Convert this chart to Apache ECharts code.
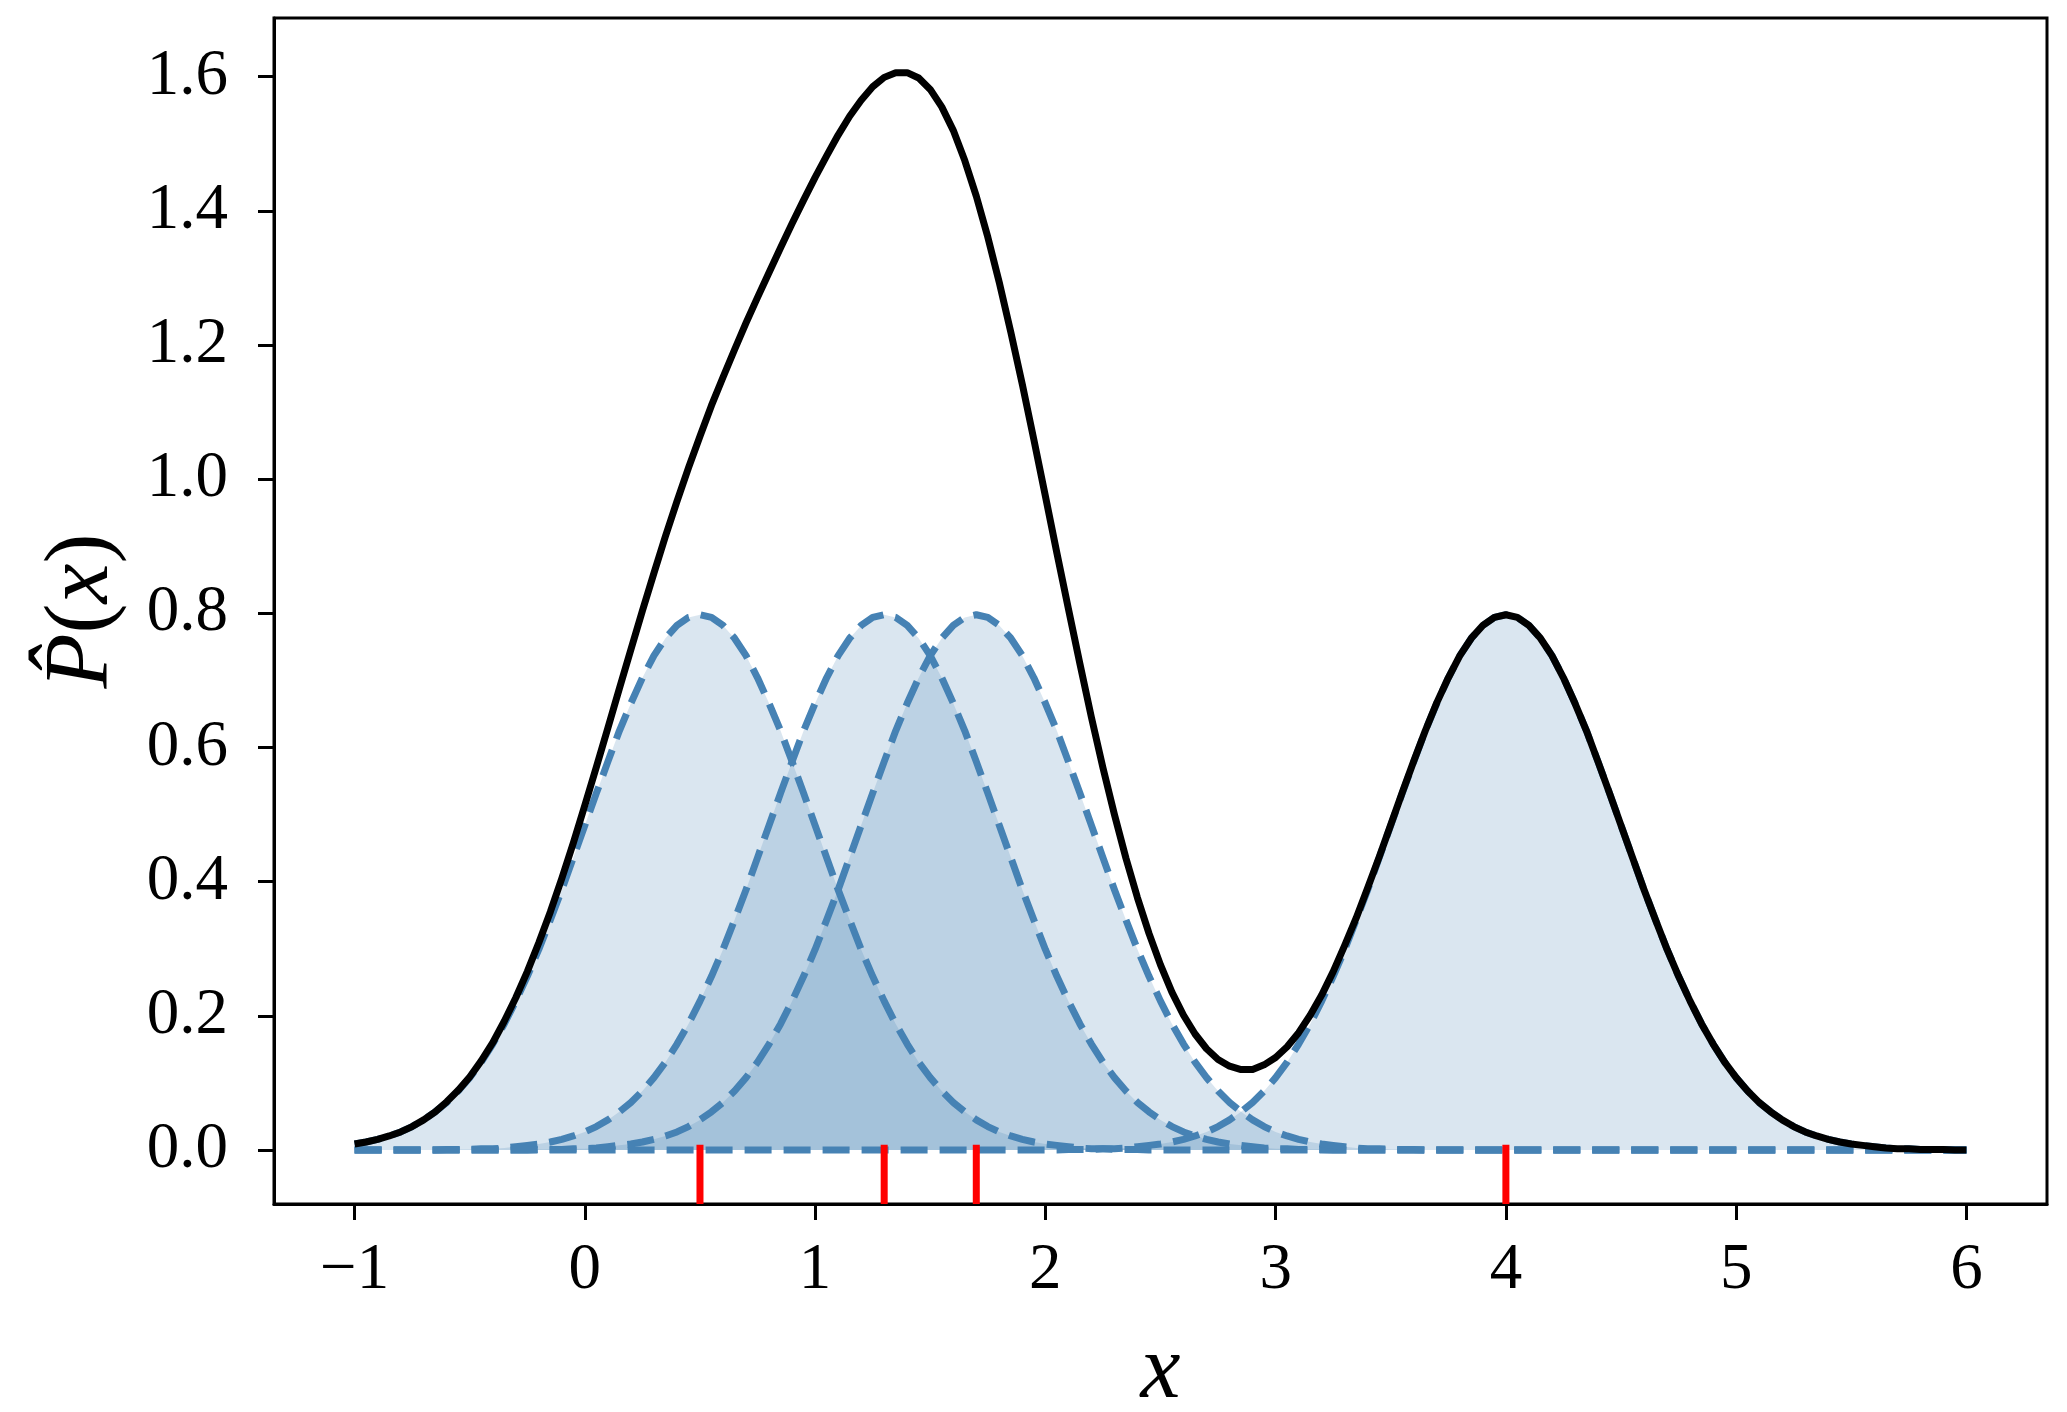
<!DOCTYPE html>
<html><head><meta charset="utf-8">
<script src="https://cdn.jsdelivr.net/npm/echarts@6/dist/echarts.min.js"></script>
<style>html,body{margin:0;padding:0;background:#fff}#c{width:2067px;height:1412px}</style>
</head><body><div id="c"></div>
<script>
const xs = [-1.00,-0.95,-0.90,-0.85,-0.80,-0.75,-0.70,-0.65,-0.60,-0.55,
  -0.50,-0.45,-0.40,-0.35,-0.30,-0.25,-0.20,-0.15,-0.10,-0.05,
  0.00,0.05,0.10,0.15,0.20,0.25,0.30,0.35,0.40,0.45,
  0.50,0.55,0.60,0.65,0.70,0.75,0.80,0.85,0.90,0.95,
  1.00,1.05,1.10,1.15,1.20,1.25,1.30,1.35,1.40,1.45,
  1.50,1.55,1.60,1.65,1.70,1.75,1.80,1.85,1.90,1.95,
  2.00,2.05,2.10,2.15,2.20,2.25,2.30,2.35,2.40,2.45,
  2.50,2.55,2.60,2.65,2.70,2.75,2.80,2.85,2.90,2.95,
  3.00,3.05,3.10,3.15,3.20,3.25,3.30,3.35,3.40,3.45,
  3.50,3.55,3.60,3.65,3.70,3.75,3.80,3.85,3.90,3.95,
  4.00,4.05,4.10,4.15,4.20,4.25,4.30,4.35,4.40,4.45,
  4.50,4.55,4.60,4.65,4.70,4.75,4.80,4.85,4.90,4.95,
  5.00,5.05,5.10,5.15,5.20,5.25,5.30,5.35,5.40,5.45,
  5.50,5.55,5.60,5.65,5.70,5.75,5.80,5.85,5.90,5.95,
  6.00];
const kernelA = [0.009,0.012,0.016,0.021,0.027,0.035,0.045,0.057,0.071,0.088,
  0.108,0.131,0.158,0.188,0.222,0.259,0.299,0.343,0.388,0.436,
  0.484,0.532,0.579,0.625,0.666,0.704,0.737,0.763,0.782,0.794,
  0.798,0.794,0.782,0.763,0.737,0.704,0.666,0.625,0.579,0.532,
  0.484,0.436,0.388,0.343,0.299,0.259,0.222,0.188,0.158,0.131,
  0.108,0.088,0.071,0.057,0.045,0.035,0.027,0.021,0.016,0.012,
  0.009,0.007,0.005,0.003,0.002,0.002,0.001,0.001,0.001,0,
  0,0,0,0,0,0,0,0,0,0,
  0,0,0,0,0,0,0,0,0,0,
  0,0,0,0,0,0,0,0,0,0,
  0,0,0,0,0,0,0,0,0,0,
  0,0,0,0,0,0,0,0,0,0,
  0,0,0,0,0,0,0,0,0,0,
  0,0,0,0,0,0,0,0,0,0,
  0];
const kernelB = [0,0,0,0,0,0,0,0,0.001,0.001,
  0.001,0.002,0.002,0.003,0.005,0.007,0.009,0.012,0.016,0.021,
  0.027,0.035,0.045,0.057,0.071,0.088,0.108,0.131,0.158,0.188,
  0.222,0.259,0.299,0.343,0.388,0.436,0.484,0.532,0.579,0.625,
  0.666,0.704,0.737,0.763,0.782,0.794,0.798,0.794,0.782,0.763,
  0.737,0.704,0.666,0.625,0.579,0.532,0.484,0.436,0.388,0.343,
  0.299,0.259,0.222,0.188,0.158,0.131,0.108,0.088,0.071,0.057,
  0.045,0.035,0.027,0.021,0.016,0.012,0.009,0.007,0.005,0.003,
  0.002,0.002,0.001,0.001,0.001,0,0,0,0,0,
  0,0,0,0,0,0,0,0,0,0,
  0,0,0,0,0,0,0,0,0,0,
  0,0,0,0,0,0,0,0,0,0,
  0,0,0,0,0,0,0,0,0,0,
  0,0,0,0,0,0,0,0,0,0,
  0];
const kernelC = [0,0,0,0,0,0,0,0,0,0,
  0,0,0,0,0,0,0.001,0.001,0.001,0.002,
  0.002,0.003,0.005,0.007,0.009,0.012,0.016,0.021,0.027,0.035,
  0.045,0.057,0.071,0.088,0.108,0.131,0.158,0.188,0.222,0.259,
  0.299,0.343,0.388,0.436,0.484,0.532,0.579,0.625,0.666,0.704,
  0.737,0.763,0.782,0.794,0.798,0.794,0.782,0.763,0.737,0.704,
  0.666,0.625,0.579,0.532,0.484,0.436,0.388,0.343,0.299,0.259,
  0.222,0.188,0.158,0.131,0.108,0.088,0.071,0.057,0.045,0.035,
  0.027,0.021,0.016,0.012,0.009,0.007,0.005,0.003,0.002,0.002,
  0.001,0.001,0.001,0,0,0,0,0,0,0,
  0,0,0,0,0,0,0,0,0,0,
  0,0,0,0,0,0,0,0,0,0,
  0,0,0,0,0,0,0,0,0,0,
  0,0,0,0,0,0,0,0,0,0,
  0];
const kernelD = [0,0,0,0,0,0,0,0,0,0,
  0,0,0,0,0,0,0,0,0,0,
  0,0,0,0,0,0,0,0,0,0,
  0,0,0,0,0,0,0,0,0,0,
  0,0,0,0,0,0,0,0,0,0,
  0,0,0,0,0,0,0,0,0,0,
  0,0,0.001,0.001,0.001,0.002,0.002,0.003,0.005,0.007,
  0.009,0.012,0.016,0.021,0.027,0.035,0.045,0.057,0.071,0.088,
  0.108,0.131,0.158,0.188,0.222,0.259,0.299,0.343,0.388,0.436,
  0.484,0.532,0.579,0.625,0.666,0.704,0.737,0.763,0.782,0.794,
  0.798,0.794,0.782,0.763,0.737,0.704,0.666,0.625,0.579,0.532,
  0.484,0.436,0.388,0.343,0.299,0.259,0.222,0.188,0.158,0.131,
  0.108,0.088,0.071,0.057,0.045,0.035,0.027,0.021,0.016,0.012,
  0.009,0.007,0.005,0.003,0.002,0.002,0.001,0.001,0.001,0,
  0];
const total = [0.009,0.012,0.016,0.021,0.027,0.035,0.045,0.057,0.072,0.089,
  0.109,0.133,0.160,0.192,0.227,0.266,0.309,0.355,0.405,0.458,
  0.514,0.571,0.629,0.688,0.746,0.804,0.860,0.915,0.967,1.017,
  1.064,1.110,1.152,1.193,1.233,1.271,1.308,1.345,1.381,1.416,
  1.450,1.482,1.513,1.541,1.565,1.585,1.599,1.606,1.606,1.598,
  1.581,1.555,1.520,1.475,1.422,1.361,1.293,1.219,1.141,1.059,
  0.975,0.890,0.807,0.725,0.645,0.570,0.500,0.435,0.376,0.323,
  0.276,0.235,0.201,0.173,0.151,0.135,0.125,0.120,0.120,0.127,
  0.138,0.154,0.175,0.201,0.231,0.266,0.305,0.346,0.391,0.437,
  0.485,0.533,0.580,0.625,0.667,0.704,0.737,0.763,0.782,0.794,
  0.798,0.794,0.782,0.763,0.737,0.704,0.666,0.625,0.579,0.532,
  0.484,0.436,0.388,0.343,0.299,0.259,0.222,0.188,0.158,0.131,
  0.108,0.088,0.071,0.057,0.045,0.035,0.027,0.021,0.016,0.012,
  0.009,0.007,0.005,0.003,0.002,0.002,0.001,0.001,0.001,0.000,
  0.000];
const rugX = [0.5, 1.3, 1.7, 4.0];
const xTicks = [-1, 0, 1, 2, 3, 4, 5, 6];
const yTicks = [0, 0.2, 0.4, 0.6, 0.8, 1.0, 1.2, 1.4, 1.6];

const Y_MIN = -0.0804, Y_MAX = 1.6875;
const X_MIN = -1.35, X_MAX = 6.35;
const FONT = '"Liberation Serif", "DejaVu Serif", serif';
const BLUE = '#4682B4';
const zip = ys => xs.map((x, i) => [x, ys[i]]);

const series = [];
[kernelA, kernelB, kernelC, kernelD].forEach(k => {
  series.push({
    type: 'line', data: zip(k), symbol: 'none', showSymbol: false, smooth: false,
    lineStyle: { color: BLUE, width: 7, type: [27, 12], cap: 'butt', join: 'round' },
    areaStyle: { color: BLUE, opacity: 0.2, origin: 'auto' },
    z: 2, silent: true
  });
});
series.push({
  type: 'line', data: zip(total), symbol: 'none', showSymbol: false, smooth: false,
  lineStyle: { color: '#000', width: 7, join: 'round' }, z: 3, silent: true
});
const rugTop = Y_MIN + 0.05 * (Y_MAX - Y_MIN);
rugX.forEach(x => {
  series.push({
    type: 'line', data: [[x, Y_MIN], [x, rugTop]], symbol: 'none', showSymbol: false,
    lineStyle: { color: '#ff0000', width: 7, cap: 'butt' }, z: 4, silent: true
  });
});

const axisCommon = {
  type: 'value', splitLine: { show: false },
  axisLine: { show: true, onZero: false, lineStyle: { color: '#000', width: 3 } },
};
const chart = echarts.init(document.getElementById('c'), null, { renderer: 'canvas' });
chart.setOption({
  animation: false,
  backgroundColor: '#fff',
  grid: { left: 274, right: 20, top: 18, bottom: 208, containLabel: false, outerBoundsMode: 'none',
    show: true, borderColor: '#000', borderWidth: 3, backgroundColor: 'transparent' },
  xAxis: Object.assign({}, axisCommon, {
    min: X_MIN, max: X_MAX,
    axisTick: { show: true, customValues: xTicks, length: 16, lineStyle: { color: '#000', width: 3 } },
    axisLabel: { customValues: xTicks, color: '#000', fontSize: 65, fontFamily: FONT, margin: 34,
      formatter: v => (v < 0 ? '\u2212' + Math.abs(v) : String(v)) },
    name: 'x', nameLocation: 'middle', nameGap: 124,
    nameTextStyle: { color: '#000', fontSize: 90, fontStyle: 'italic', fontFamily: FONT }
  }),
  yAxis: Object.assign({}, axisCommon, {
    min: Y_MIN, max: Y_MAX,
    axisTick: { show: true, customValues: yTicks, length: 16, lineStyle: { color: '#000', width: 3 } },
    axisLabel: { customValues: yTicks, color: '#000', fontSize: 65, fontFamily: FONT, margin: 46,
      formatter: v => v.toFixed(1) },
    name: '{i|P\u0302}{r|(}{i|x}{r|)}', nameLocation: 'middle', nameGap: 146, nameRotate: 90,
    nameTextStyle: { rich: {
      i: { fontStyle: 'italic', fontSize: 90, fontFamily: FONT, color: '#000' },
      r: { fontSize: 90, fontFamily: FONT, color: '#000' }
    } }
  }),
  series: series
});
</script></body></html>
